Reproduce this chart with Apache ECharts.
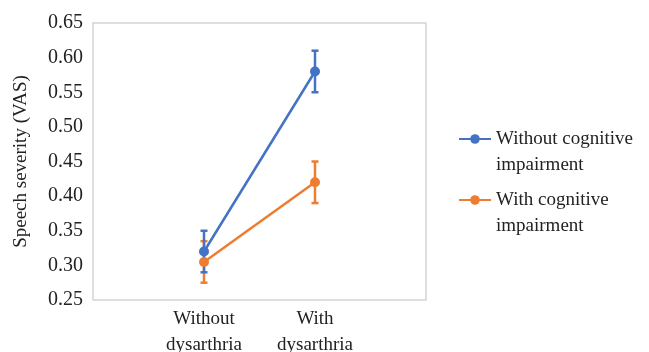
<!DOCTYPE html>
<html>
<head>
<meta charset="utf-8">
<script src="https://cdn.jsdelivr.net/npm/echarts@6/dist/echarts.min.js"></script>
<style>
  html, body { margin: 0; padding: 0; background: #fff; }
  #main { width: 649px; height: 352px; }
</style>
</head>
<body>
<div id="main"></div>
<script>
// categories: empty slots at both ends so the points sit at 1/3 and 2/3
var categories = ['', 'Without\ndysarthria', 'With\ndysarthria', ''];
var yTicks = [0.25, 0.30, 0.35, 0.40, 0.45, 0.50, 0.55, 0.60, 0.65];

var nameNoCog = 'Without cognitive impairment';
var nameCog = 'With cognitive impairment';

var noCogMean = ['-', 0.32, 0.58, '-'];
var noCogLow  = [null, 0.29, 0.55, null];
var noCogHigh = [null, 0.35, 0.61, null];

var cogMean = ['-', 0.305, 0.42, '-'];
var cogLow  = [null, 0.275, 0.39, null];
var cogHigh = [null, 0.335, 0.45, null];

var blue = '#4472C4';
var orange = '#ED7D31';
var serif = '"Liberation Serif", "DejaVu Serif", serif';

function errData(low, high) {
  var out = [];
  for (var i = 0; i < low.length; i++) {
    if (low[i] != null) out.push([i, low[i], high[i]]);
  }
  return out;
}

function errRender(color) {
  return function (params, api) {
    var x = api.value(0);
    var lo = api.coord([x, api.value(1)]);
    var hi = api.coord([x, api.value(2)]);
    var cap = 3.5;
    var st = { stroke: color, lineWidth: 2.5 };
    return {
      type: 'group',
      children: [
        { type: 'line', shape: { x1: lo[0], y1: lo[1], x2: hi[0], y2: hi[1] }, style: st },
        { type: 'line', shape: { x1: hi[0] - cap, y1: hi[1], x2: hi[0] + cap, y2: hi[1] }, style: st },
        { type: 'line', shape: { x1: lo[0] - cap, y1: lo[1], x2: lo[0] + cap, y2: lo[1] }, style: st }
      ]
    };
  };
}

var chart = echarts.init(document.getElementById('main'));

var option = {
  animation: false,
  textStyle: { fontFamily: serif },
  grid: {
    left: 93, top: 23, right: 223, bottom: 52,
    outerBoundsMode: 'none',
    show: true, borderColor: '#d4d4d4', borderWidth: 1.5
  },
  legend: {
    orient: 'vertical',
    left: 453, top: 95,
    itemWidth: 32, itemHeight: 12,
    itemGap: -17,
    data: [nameNoCog, nameCog],
    // leading blank line keeps the icon level with the first text line
    formatter: function (n) {
      return '\n' + n.replace(' cognitive ', ' cognitive\n');
    },
    textStyle: {
      fontFamily: serif, fontSize: 19, color: '#222', lineHeight: 26
    }
  },
  xAxis: {
    type: 'category',
    data: categories,
    boundaryGap: false,
    axisLine: { show: false },
    axisTick: { show: false },
    splitLine: { show: false },
    axisLabel: {
      interval: 0, margin: 6, color: '#222',
      fontFamily: serif, fontSize: 19, lineHeight: 26
    }
  },
  yAxis: {
    type: 'value',
    name: 'Speech severity (VAS)',
    nameLocation: 'middle',
    nameGap: 62,
    nameRotate: 90,
    nameTextStyle: { fontFamily: serif, fontSize: 19, color: '#222' },
    min: yTicks[0], max: yTicks[yTicks.length - 1], interval: 0.05,
    axisLine: { show: false },
    axisTick: { show: false },
    splitLine: { show: false },
    axisLabel: {
      margin: 10, color: '#222', fontFamily: serif, fontSize: 20,
      formatter: function (v) { return v.toFixed(2); }
    }
  },
  series: [
    {
      name: nameCog, type: 'line', data: cogMean,
      symbol: 'circle', symbolSize: 10,
      itemStyle: { color: orange },
      lineStyle: { color: orange, width: 2.5 }
    },
    {
      name: nameCog, type: 'custom', renderItem: errRender(orange),
      data: errData(cogLow, cogHigh), z: 3
    },
    {
      name: nameNoCog, type: 'line', data: noCogMean,
      symbol: 'circle', symbolSize: 10,
      itemStyle: { color: blue },
      lineStyle: { color: blue, width: 2.5 }
    },
    {
      name: nameNoCog, type: 'custom', renderItem: errRender(blue),
      data: errData(noCogLow, noCogHigh), z: 3
    }
  ]
};

chart.setOption(option);
</script>
</body>
</html>
